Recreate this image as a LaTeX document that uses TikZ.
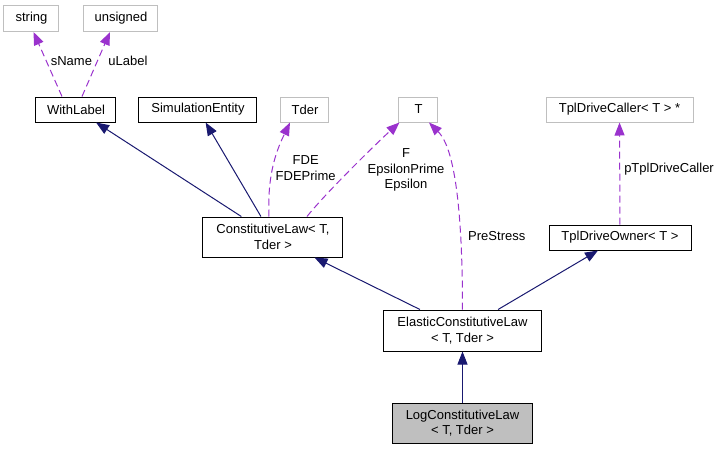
\documentclass[tikz,border=0pt]{standalone}
\usepackage{fontspec}
\setmainfont{Liberation Sans}
\usepackage{xcolor}
\usetikzlibrary{arrows.meta}
\definecolor{edgenavy}{HTML}{191970}
\definecolor{edgepurple}{HTML}{9A32CD}
\definecolor{boxgray}{HTML}{BFBFBF}

\begin{document}
\begin{tikzpicture}[node distance=92.5pt, font=\fontsize{13}{15.3}\selectfont,
  classbox/.style={rectangle, minimum height=25pt, inner sep=2pt, text centered, align=center, draw=black, line width=1pt},
  extbox/.style={classbox, draw=boxgray},
  inherit/.style={-{Triangle[length=13pt,width=10pt]}, draw=edgenavy, line width=1pt},
  usage/.style={-{Triangle[length=13pt,width=10pt]}, draw=edgepurple, line width=1pt, dash pattern=on 7pt off 4pt},
  edgelabel/.style={text=black, align=center, inner sep=0pt}]
\useasboundingbox (-462.5pt,-28pt) rectangle (257.5pt,423pt);

\node (log) [classbox, fill=boxgray, minimum width=139pt, minimum height=40pt] {LogConstitutiveLaw\\ < T, Tder >};
\node (elastic) [classbox, minimum width=157pt, minimum height=41pt, above of=log] {ElasticConstitutiveLaw\\ < T, Tder >};
\node (constlaw) [classbox, minimum width=140pt, minimum height=40pt, above of=elastic, xshift=-189.5pt, yshift=1pt] {ConstitutiveLaw< T,\\ Tder >};
\node (owner) [classbox, minimum width=142pt, above of=elastic, xshift=157.5pt, yshift=0.5pt] {TplDriveOwner< T >};

\node (withlabel) [classbox, minimum width=80pt, above of=constlaw, xshift=-197pt, yshift=35pt] {WithLabel};
\node (simentity) [classbox, minimum width=118pt, right of=withlabel, xshift=29.5pt] {SimulationEntity};
\node (tder) [extbox, minimum width=48pt, right of=simentity, xshift=14.5pt] {Tder};
\node (tvar) [extbox, minimum width=39pt, right of=tder, xshift=21pt] {T};
\node (caller) [extbox, minimum width=147pt, above of=owner, xshift=-0.5pt, yshift=35.5pt] {TplDriveCaller< T > *};

\node (string) [extbox, minimum width=55pt, minimum height=26pt, above of=withlabel, xshift=-44.5pt, yshift=-1.5pt] {string};
\node (unsigned) [extbox, minimum width=74pt, minimum height=26pt, above of=withlabel, xshift=45pt, yshift=-1.5pt] {unsigned};

\draw[inherit] (log) -- (elastic);
\draw[inherit] (elastic) -- (constlaw);
\draw[inherit] (elastic) -- (owner);
\draw[inherit] (constlaw) -- (withlabel);
\draw[inherit] (constlaw) -- (simentity);

\draw[usage] ([xshift=-14pt]withlabel.north) -- node[edgelabel, pos=0.55, right=4pt] {sName} ([xshift=2pt]string.south);
\draw[usage] ([xshift=6pt]withlabel.north) -- node[edgelabel, pos=0.55, right=10.5pt] {uLabel} ([xshift=-11pt]unsigned.south);
\draw[usage] ([xshift=-4pt]constlaw.north) .. controls +(-2pt,45pt) and +(-12pt,-25pt) .. node[edgelabel, pos=0.5, right=1pt, yshift=-6pt] {FDE\\ FDEPrime} ([xshift=-15pt]tder.south);
\draw[usage] ([xshift=34pt]constlaw.north) .. controls +(20pt,25pt) and +(-20pt,-18pt) .. node[edgelabel, pos=0.5, right=14pt, yshift=-3pt] {F\\ EpsilonPrime\\ Epsilon} ([xshift=-19pt]tvar.south);
\draw[usage] (elastic.north) .. controls +(0pt,140pt) and +(18pt,-18pt) .. node[edgelabel, pos=0.2, right=7pt, yshift=2pt] {PreStress} ([xshift=10.5pt]tvar.south);
\draw[usage] (owner) -- node[edgelabel, right=4pt, yshift=4.5pt] {pTplDriveCaller} (caller);

\end{tikzpicture}
\end{document}
